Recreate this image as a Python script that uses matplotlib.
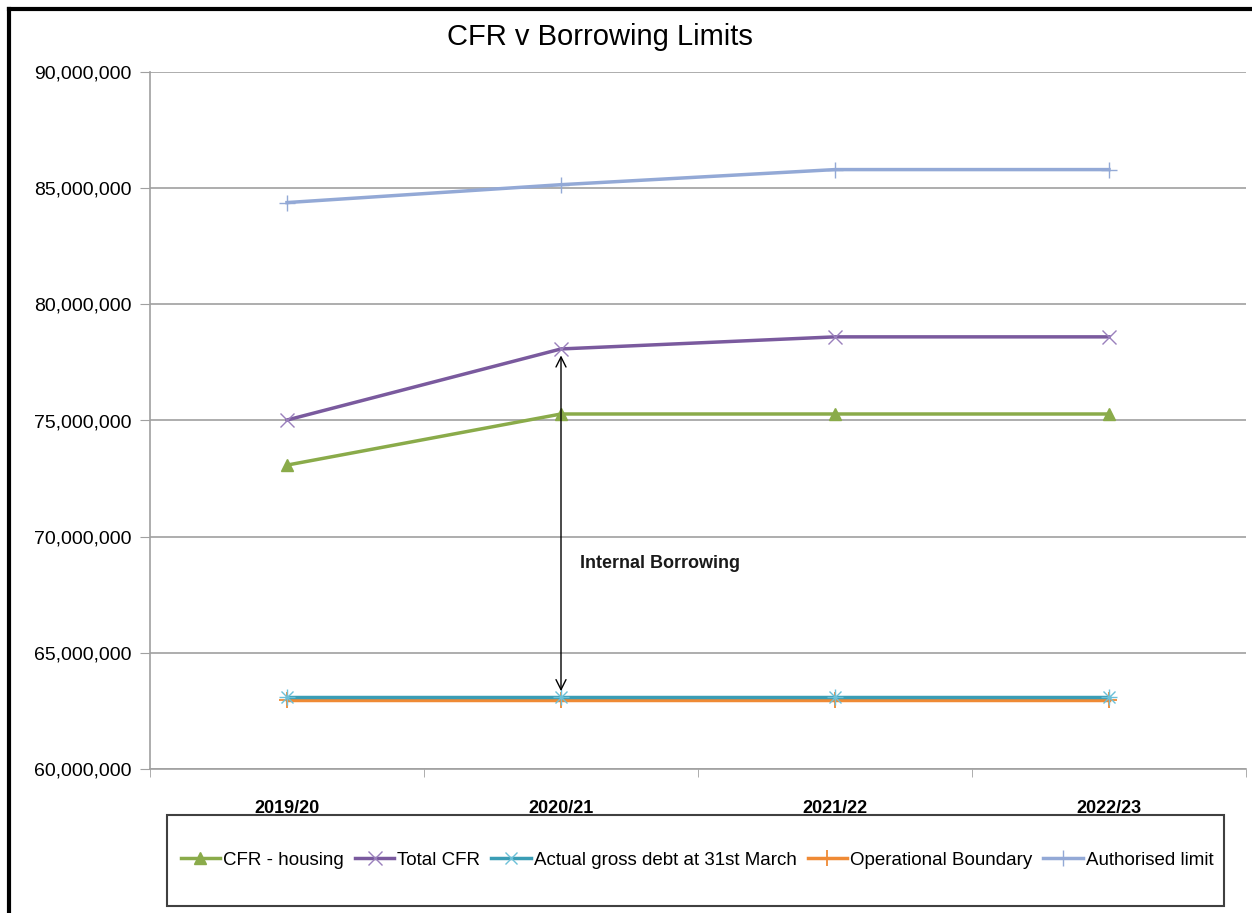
import numpy as np
import matplotlib.pyplot as plt
from matplotlib.lines import Line2D
from matplotlib.patches import Rectangle
from matplotlib.ticker import FuncFormatter

plt.rcParams['font.family'] = ['Liberation Sans Narrow', 'Liberation Sans', 'DejaVu Sans']

# data
years = ['2019/20', '2020/21', '2021/22', '2022/23']
cfr_housing = [73080000, 75280000, 75280000, 75280000]
total_cfr = [75020000, 78080000, 78600000, 78600000]
gross_debt = [63100000, 63100000, 63100000, 63100000]
op_boundary = [62980000, 62980000, 62980000, 62980000]
auth_limit = [84380000, 85150000, 85800000, 85800000]

x = np.arange(len(years))

fig = plt.figure(figsize=(12.52, 9.13), dpi=100)
ax = fig.add_axes([150 / 1252, 1 - 769 / 913, 1096 / 1252, 697 / 913])

ax.plot(x, cfr_housing, color='#8aab4a', lw=2.5, marker='^', ms=8, label='CFR - housing')
ax.plot(x, total_cfr, color='#7a5a9e', lw=2.5, marker='x', ms=10, mew=1.0,
        mec='#9a80bc', label='Total CFR')
ax.plot(x, gross_debt, color='#3a9db5', lw=2.5, marker='x', ms=9, mew=1.0,
        mec='#6cc0d8', label='Actual gross debt at 31st March', zorder=3)
ax.plot(x, gross_debt, ls='none', marker='+', ms=11, mew=1.0, mec='#6cc0d8', zorder=3)
ax.plot(x, op_boundary, color='#ef8a35', lw=2.5, marker='+', ms=11, mew=1.3,
        label='Operational Boundary', zorder=2.5)
ax.plot(x, auth_limit, color='#93a9d6', lw=2.5, marker='+', ms=12, mew=1.0,
        label='Authorised limit')

# arrow between total CFR and gross debt in 2020/21
ax.annotate('', xy=(1, 63350000), xytext=(1, 77800000),
            arrowprops=dict(arrowstyle='<->', color='black', lw=1.0,
                            mutation_scale=18, shrinkA=0, shrinkB=0))
ax.text(1.07, 68850000, 'Internal Borrowing', fontsize=13, fontweight='bold',
        va='center', ha='left', color='#1a1a1a')

ax.set_xlim(-0.5, 3.5)
ax.set_ylim(60000000, 90000000)
ax.set_yticks(np.arange(60000000, 90000001, 5000000))
ax.yaxis.set_major_formatter(FuncFormatter(lambda v, p: f'{int(v):,}'))
ax.set_xticks(x)
ax.set_xticklabels(years, fontsize=13, fontweight='bold')
ax.set_xticks(np.arange(-0.5, 3.6, 1), minor=True)
ax.tick_params(axis='x', which='major', length=0, pad=22)
ax.tick_params(axis='x', which='minor', length=6, color='#a0a0a0')
ax.tick_params(axis='y', length=7, color='#a0a0a0', labelsize=14, pad=6)
ax.grid(axis='y', color='#a0a0a0', lw=1.2)
ax.set_axisbelow(True)
for s in ['top', 'right']:
    ax.spines[s].set_visible(False)
for s in ['left', 'bottom']:
    ax.spines[s].set_color('#a0a0a0')
    ax.spines[s].set_linewidth(1.2)

fig.text(600 / 1252, 1 - 37 / 913, 'CFR v Borrowing Limits', fontsize=21,
         ha='center', va='center')

# legend box drawn separately so its height matches
fig.add_artist(Rectangle((167 / 1252, 1 - 906 / 913), 1057 / 1252, 91 / 913,
                         transform=fig.transFigure, fill=False,
                         edgecolor='#404040', lw=1.5))
fig.legend(loc='center', bbox_to_anchor=(697 / 1252, 1 - 860 / 913),
           ncol=5, fontsize=13.5, frameon=False,
           handlelength=2.1, handletextpad=0.15, columnspacing=0.6)

# outer frame (screenshot edges)
fig.add_artist(Line2D([9 / 1252, 9 / 1252], [0, 1 - 9 / 913], color='black', lw=3))
fig.add_artist(Line2D([9 / 1252, 1], [1 - 9 / 913, 1 - 9 / 913], color='black', lw=3))

plt.savefig('out.png', dpi=100)
plt.close(fig)
